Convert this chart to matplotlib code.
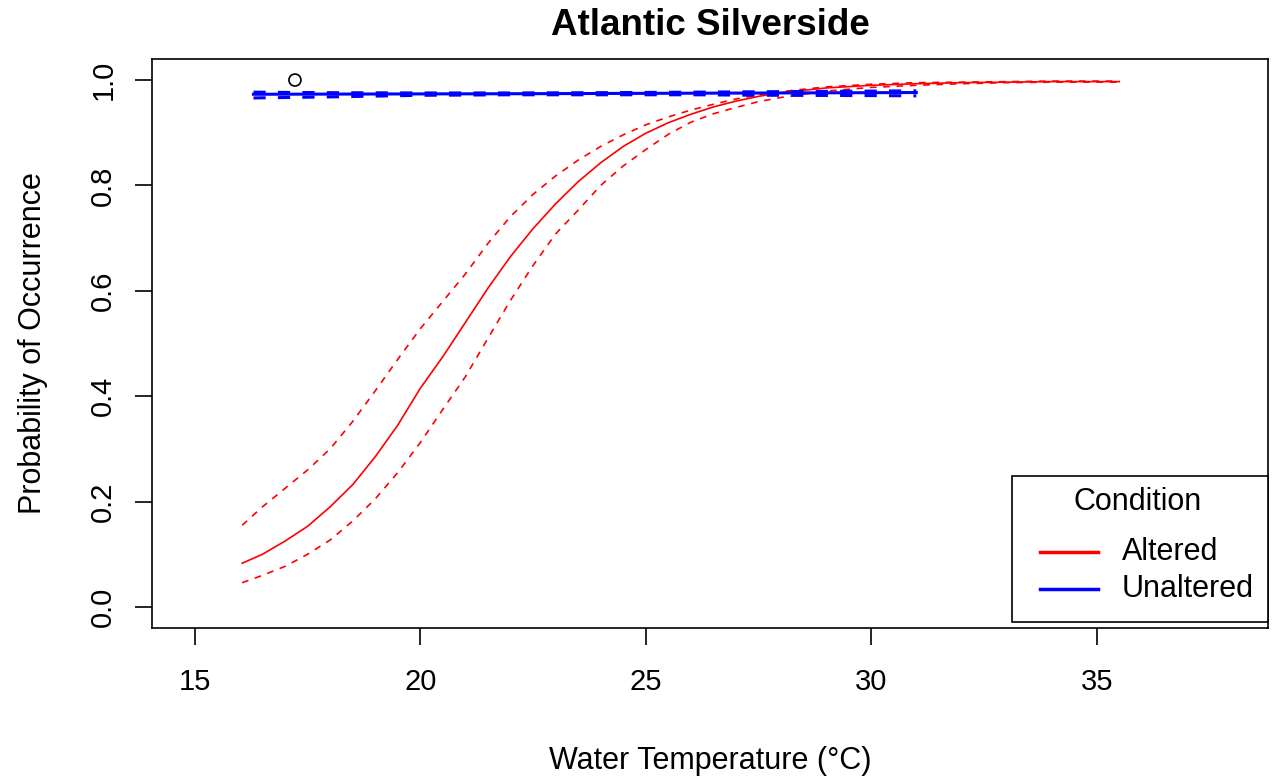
import matplotlib
matplotlib.use("Agg")
import matplotlib.pyplot as plt
from matplotlib.lines import Line2D
from matplotlib.patches import Rectangle

# ── Data ──────────────────────────────────────────────────────────────────────
alt_temp  = [16.05, 16.5, 17.0, 17.5, 18.0, 18.5, 19.0, 19.5, 20.0, 20.5,
             21.0, 21.5, 22.0, 22.5, 23.0, 23.5, 24.0, 24.5, 25.0, 25.5,
             26.0, 26.5, 27.0, 27.5, 28.0, 29.0, 30.0, 31.0, 32.0, 33.0,
             34.0, 35.5]
alt_fit   = [0.083, 0.100, 0.125, 0.153, 0.190, 0.232, 0.285, 0.345, 0.415, 0.475,
             0.540, 0.605, 0.665, 0.718, 0.765, 0.807, 0.843, 0.874, 0.899, 0.919,
             0.935, 0.949, 0.960, 0.969, 0.976, 0.985, 0.990, 0.993, 0.995, 0.996,
             0.997, 0.997]
alt_upper = [0.155, 0.190, 0.225, 0.260, 0.300, 0.352, 0.410, 0.470, 0.528, 0.580,
             0.632, 0.690, 0.741, 0.783, 0.818, 0.848, 0.874, 0.896, 0.915, 0.930,
             0.943, 0.954, 0.964, 0.972, 0.978, 0.987, 0.992, 0.995, 0.996, 0.997,
             0.998, 0.998]
alt_lower = [0.046, 0.060, 0.077, 0.100, 0.127, 0.163, 0.205, 0.255, 0.312, 0.375,
             0.437, 0.510, 0.582, 0.648, 0.708, 0.753, 0.800, 0.837, 0.868, 0.897,
             0.920, 0.936, 0.948, 0.959, 0.967, 0.979, 0.986, 0.990, 0.993, 0.995,
             0.996, 0.996]

unalt_temp  = [16.3, 18.0, 20.0, 22.0, 24.0, 26.0, 28.0, 30.0, 31.0]
unalt_fit   = [0.9730, 0.9733, 0.9737, 0.9740, 0.9745, 0.9750, 0.9755, 0.9760, 0.9763]
unalt_upper = [0.9770, 0.9760, 0.9755, 0.9755, 0.9760, 0.9770, 0.9780, 0.9790, 0.9795]
unalt_lower = [0.9660, 0.9680, 0.9710, 0.9720, 0.9720, 0.9720, 0.9710, 0.9705, 0.9700]

obs_temp = [17.22]
obs_prob = [1.0]

x_ticks = [15, 20, 25, 30, 35]
y_ticks = [0.0, 0.2, 0.4, 0.6, 0.8, 1.0]

conditions   = ["Altered", "Unaltered"]
cond_colors  = ["red", "blue"]

plt.rcParams["font.family"] = ["Liberation Sans", "DejaVu Sans"]

# ── Figure ────────────────────────────────────────────────────────────────────
W, H = 1272, 782
fig = plt.figure(figsize=(W / 100, H / 100), dpi=100)
ax = fig.add_axes([0.1195, 0.1969, 0.8774, 0.7277])

dash = (0, (4, 4))
ax.plot(alt_temp, alt_fit, color="red", linewidth=1.2)
ax.plot(alt_temp, alt_upper, color="red", linewidth=1.2, linestyle=dash)
ax.plot(alt_temp, alt_lower, color="red", linewidth=1.2, linestyle=dash)

ax.plot(unalt_temp, unalt_fit, color="blue", linewidth=2.2)
ax.plot(unalt_temp, unalt_upper, color="blue", linewidth=2.2, linestyle=dash)
ax.plot(unalt_temp, unalt_lower, color="blue", linewidth=2.2, linestyle=dash)

ax.scatter(obs_temp, obs_prob, s=75, facecolors="none", edgecolors="black",
           linewidths=1.2, zorder=5)

ax.set_xlim(14.05, 38.8)
ax.set_ylim(-0.04, 1.04)
ax.set_xticks(x_ticks)
ax.set_yticks(y_ticks)
ax.set_xticklabels([str(t) for t in x_ticks])
ax.set_yticklabels([f"{t:.1f}" for t in y_ticks], rotation=90, va="center")
ax.tick_params(axis="both", labelsize=21, length=12, width=1.2)
ax.tick_params(axis="x", pad=17)
ax.tick_params(axis="y", pad=13)

for s in ax.spines.values():
    s.set_linewidth(1.2)

ax.set_title("Atlantic Silverside", fontsize=26.5, fontweight="bold", pad=17)
ax.set_xlabel("Water Temperature (°C)", fontsize=22, labelpad=36)
ax.set_ylabel("Probability of Occurrence", fontsize=22, labelpad=30)

# ── Legend box (R style, drawn in figure pixels) ──────────────────────────────
def fx(px):
    return px / W


def fy(py):
    return 1 - py / H


fig.add_artist(Rectangle((fx(1012), fy(622)), fx(1268) - fx(1012), fy(476) - fy(622),
                         transform=fig.transFigure, facecolor="white",
                         edgecolor="black", linewidth=1.2, zorder=10))
fig.text(fx(1138), fy(502), "Condition", fontsize=22, ha="center", va="center",
         zorder=11)
for i, (name, col) in enumerate(zip(conditions, cond_colors)):
    yy = fy(552 + 37 * i)
    fig.add_artist(Line2D([fx(1040), fx(1098)], [yy, yy], color=col, linewidth=2.5,
                          transform=fig.transFigure, zorder=11))
    fig.text(fx(1122), yy, name, fontsize=22, ha="left", va="center", zorder=11)

fig.savefig("out.png", dpi=100)
